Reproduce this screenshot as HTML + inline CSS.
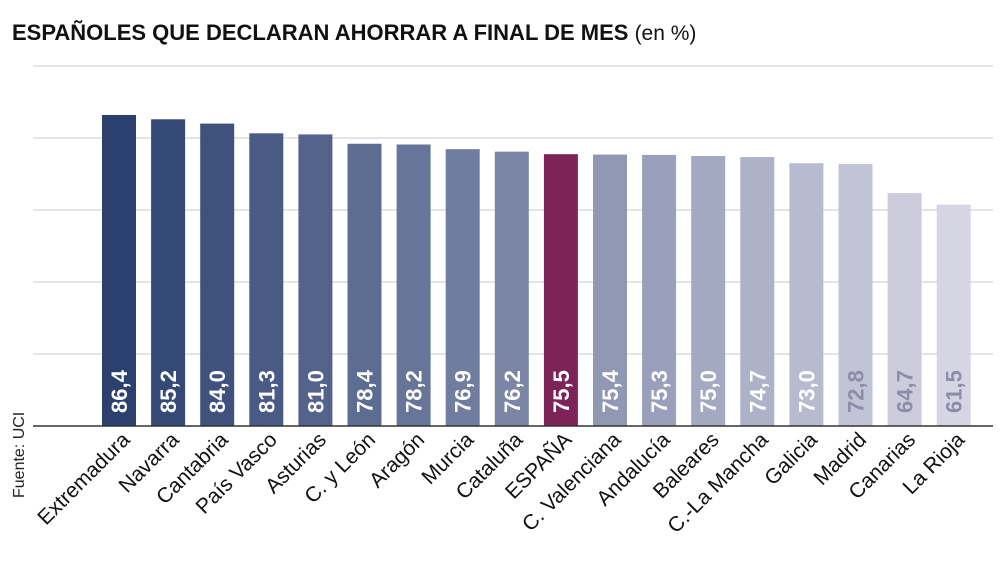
<!DOCTYPE html>
<html><head><meta charset="utf-8"><style>
body{margin:0;background:#fff;width:1000px;height:567px;overflow:hidden;font-family:"Liberation Sans",sans-serif}
</style></head><body>
<svg width="1000" height="567">
<text x="12" y="40" font-size="22" font-weight="bold" fill="#111">ESPAÑOLES QUE DECLARAN AHORRAR A FINAL DE MES <tspan font-weight="normal" font-size="21">(en %)</tspan></text>
<text transform="translate(24,498) rotate(-90)" font-size="16" fill="#222">Fuente: UCI</text>
<g id="grid"></g><g id="bars"></g>
<line x1="33" x2="993" y1="426" y2="426" stroke="#333" stroke-width="1.5"/>
</svg>
<script>
const categories=["Extremadura","Navarra","Cantabria","País Vasco","Asturias","C. y León","Aragón","Murcia","Cataluña","ESPAÑA","C. Valenciana","Andalucía","Baleares","C.-La Mancha","Galicia","Madrid","Canarias","La Rioja"];
const values=[86.4,85.2,84.0,81.3,81.0,78.4,78.2,76.9,76.2,75.5,75.4,75.3,75.0,74.7,73.0,72.8,64.7,61.5];
const gridTicks=[20,40,60,80,100];
const NS="http://www.w3.org/2000/svg";
const y0=426,yScale=v=>y0-v*3.6;
const x0=102,step=49.1,bw=34;
const xScale=i=>x0+i*step;
const g=document.getElementById('grid'),b=document.getElementById('bars');
gridTicks.forEach(t=>{const l=document.createElementNS(NS,'line');
l.setAttribute('x1',33);l.setAttribute('x2',993);l.setAttribute('y1',yScale(t));l.setAttribute('y2',yScale(t));
l.setAttribute('stroke','#c8c8c8');l.setAttribute('stroke-width','1');


g.appendChild(l);});
const c1=[43,64,111],c2=[214,213,228];
values.forEach((v,i)=>{
 const f=i/(values.length-1);
 let col=`rgb(${c1.map((c,k)=>Math.round(c+(c2[k]-c)*f)).join(',')})`;
 if(categories[i]==="ESPAÑA")col="#7c2459";
 const r=document.createElementNS(NS,'rect');
 r.setAttribute('x',xScale(i));r.setAttribute('y',yScale(v));r.setAttribute('width',bw);r.setAttribute('height',y0-yScale(v));r.setAttribute('fill',col);
 
 
 b.appendChild(r);
 const t=document.createElementNS(NS,'text');
 const cx=xScale(i)+bw/2+8;
 t.setAttribute('transform',`translate(${cx},413) rotate(-90)`);
 t.setAttribute('font-size','22');t.setAttribute('font-weight','bold');
 t.setAttribute('fill',i>=15?'#8e8ca8':'#fff');
 t.textContent=v.toFixed(1).replace('.',',');
 
 
 b.appendChild(t);
 const c=document.createElementNS(NS,'text');
 c.setAttribute('transform',`translate(${xScale(i)+bw/2+12},441) rotate(-45)`);
 c.setAttribute('text-anchor','end');c.setAttribute('font-size','21');c.setAttribute('fill','#111');
 c.textContent=categories[i];
 
 
 b.appendChild(c);
});
</script>
</body></html>
